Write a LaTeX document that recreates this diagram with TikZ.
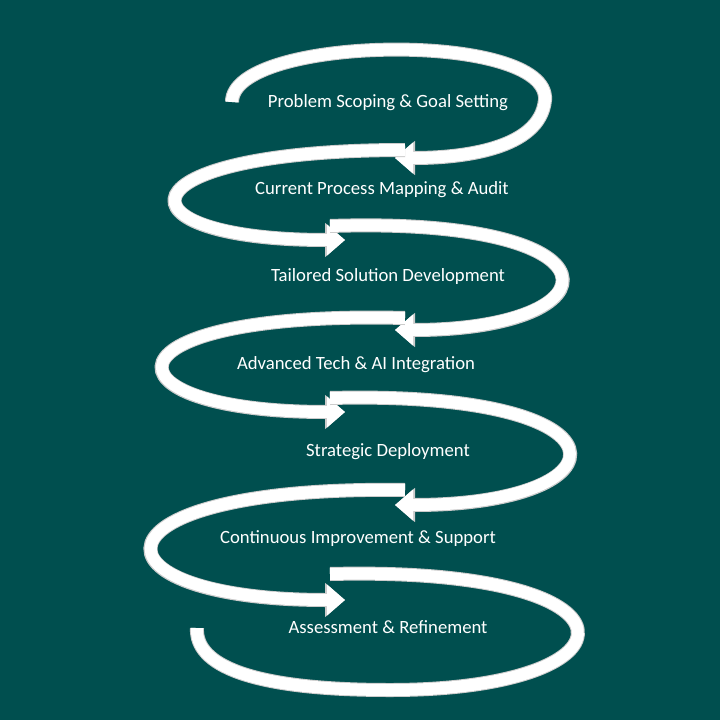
\documentclass[tikz,border=0pt]{standalone}
\usepackage{fontspec}
\setmainfont{Carlito}
\usetikzlibrary{arrows.meta}
\definecolor{bg}{HTML}{004F4F}
\tikzset{
 band/.style={draw=white,line width=12pt,line cap=butt,-{Triangle[width=30pt,length=18pt]},
   preaction={draw=gray!40,line width=14pt,-{Triangle[width=33pt,length=20pt]}}},
 lastband/.style={draw=white,line width=12pt,preaction={draw=gray!40,line width=14pt}},
 lbl/.style={text=white,font=\fontsize{18.7}{22}\selectfont}
}
\begin{document}
\begin{tikzpicture}[x=1pt,y=-1pt]
\fill[bg] (0,0) rectangle (720,720);
\useasboundingbox (0,0) rectangle (720,720);
\draw[band] (232,102) .. controls (232,35) and (550,30) .. (545,100) .. controls (540,150) and (460,158) .. (395,158);
\draw[band] (405,150) .. controls (115,150) and (110,240) .. (345,240);
\draw[band] (330,226) .. controls (630,216) and (620,330) .. (395,330);
\draw[band] (405,318) .. controls (95,310) and (95,412) .. (345,412);
\draw[band] (330,398) .. controls (640,390) and (630,505) .. (395,505);
\draw[band] (405,490) .. controls (80,485) and (80,600) .. (345,600);
\draw[lastband] (330,574) .. controls (655,566) and (645,690) .. (390,690) .. controls (250,690) and (195,665) .. (197,628);
\node[lbl] (t1) at (388,103) {Problem Scoping \& Goal Setting};
\node[lbl] (t2) at (382,190) {Current Process Mapping \& Audit};
\node[lbl] (t3) at (388,277) {Tailored Solution Development};
\node[lbl] (t4) at (356,365) {Advanced Tech \& AI Integration};
\node[lbl] (t5) at (388,452) {Strategic Deployment};
\node[lbl] (t6) at (358,539) {Continuous Improvement \& Support};
\node[lbl] (t7) at (388,627) {Assessment \& Refinement};
\end{tikzpicture}
\end{document}
